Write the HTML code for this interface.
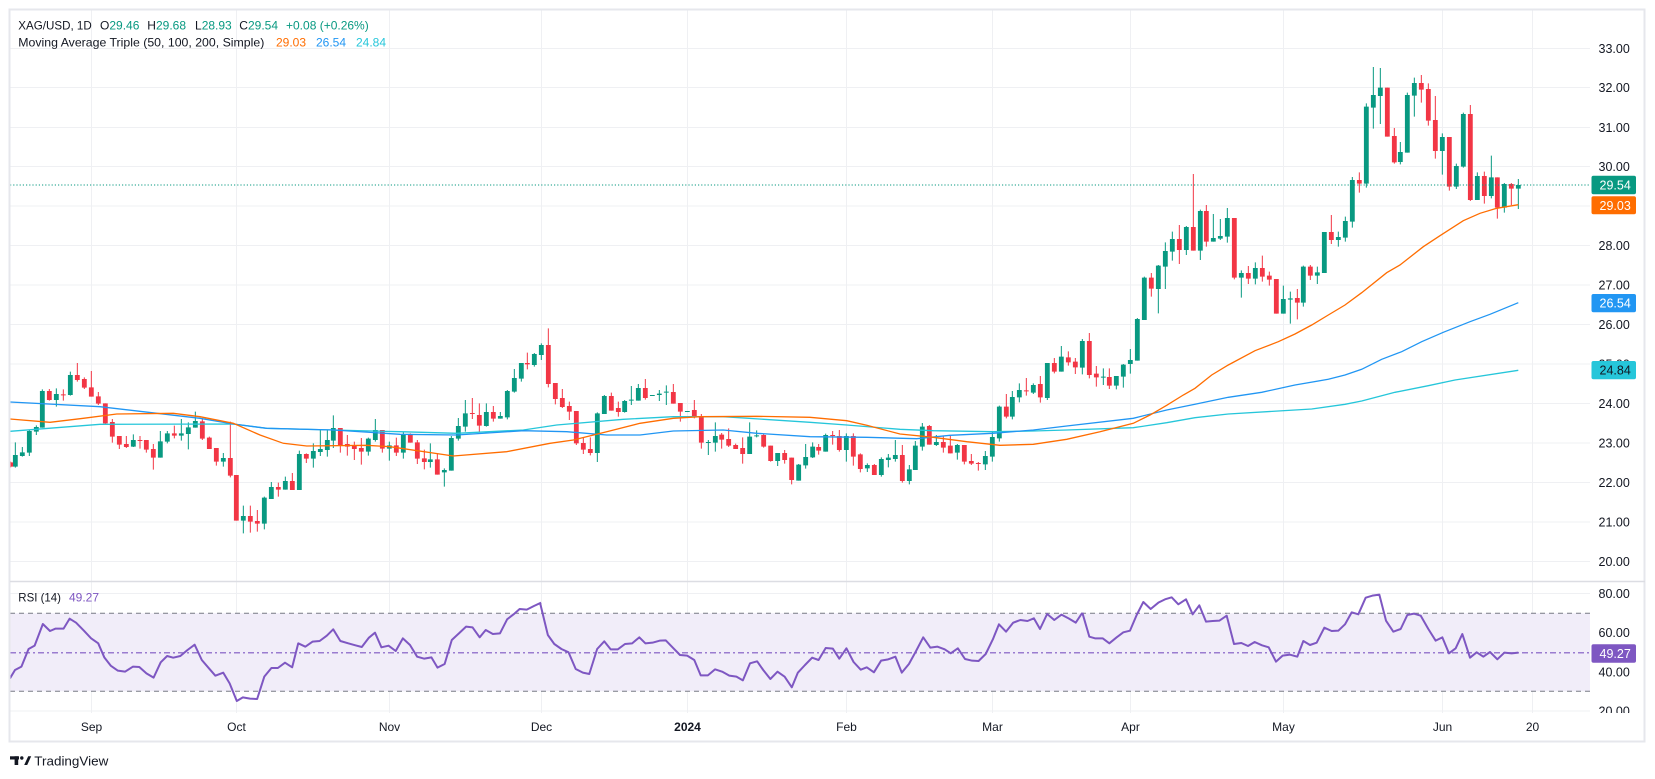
<!DOCTYPE html>
<html><head><meta charset="utf-8"><style>
html,body{margin:0;padding:0;background:#fff;width:1655px;height:779px;overflow:hidden}
svg{display:block}
text{font-family:"Liberation Sans",sans-serif}
.gw{stroke:#089981;stroke-width:3;fill:none}
.gb{stroke:#089981;stroke-width:14.5;fill:none}
.rw{stroke:#F23645;stroke-width:3;fill:none}
.rb{stroke:#F23645;stroke-width:14.5;fill:none}
.grid line{stroke:#eff0f3;stroke-width:1}
.pl{font-size:12.5px;fill:#131722}
.tl{font-size:12px;fill:#131722;text-anchor:middle}
.rsi{fill:none;stroke:#7E57C2;stroke-width:2;stroke-linejoin:round;vector-effect:non-scaling-stroke}
</style></head><body>
<svg width="1655" height="779" viewBox="0 0 1655 779" xmlns="http://www.w3.org/2000/svg">
<defs>
<clipPath id="cm"><rect x="10" y="10" width="1580" height="571"/></clipPath>
<clipPath id="cr"><rect x="10" y="582" width="1580" height="131"/></clipPath>
<clipPath id="ca"><rect x="1590" y="582" width="60" height="131"/></clipPath>
</defs>
<rect width="1655" height="779" fill="#fff"/>

<!-- grid -->
<g class="grid">
<line x1="10" x2="1590" y1="48.5" y2="48.5"/><line x1="10" x2="1590" y1="87.5" y2="87.5"/>
<line x1="10" x2="1590" y1="127.5" y2="127.5"/><line x1="10" x2="1590" y1="166.5" y2="166.5"/>
<line x1="10" x2="1590" y1="206" y2="206"/><line x1="10" x2="1590" y1="245.5" y2="245.5"/>
<line x1="10" x2="1590" y1="285" y2="285"/><line x1="10" x2="1590" y1="324.5" y2="324.5"/>
<line x1="10" x2="1590" y1="364" y2="364"/><line x1="10" x2="1590" y1="403.5" y2="403.5"/>
<line x1="10" x2="1590" y1="443" y2="443"/><line x1="10" x2="1590" y1="482.5" y2="482.5"/>
<line x1="10" x2="1590" y1="522" y2="522"/><line x1="10" x2="1590" y1="561.5" y2="561.5"/>
<line x1="10" x2="1590" y1="593.5" y2="593.5"/><line x1="10" x2="1590" y1="632.5" y2="632.5"/>
<line x1="10" x2="1590" y1="672" y2="672"/><line x1="10" x2="1590" y1="711" y2="711"/>
<line x1="91.5" x2="91.5" y1="10" y2="713"/><line x1="236.5" x2="236.5" y1="10" y2="713"/>
<line x1="389.5" x2="389.5" y1="10" y2="713"/><line x1="541.5" x2="541.5" y1="10" y2="713"/>
<line x1="687.5" x2="687.5" y1="10" y2="713"/><line x1="846.5" x2="846.5" y1="10" y2="713"/>
<line x1="992.5" x2="992.5" y1="10" y2="713"/><line x1="1130.5" x2="1130.5" y1="10" y2="713"/>
<line x1="1283.5" x2="1283.5" y1="10" y2="713"/><line x1="1442.5" x2="1442.5" y1="10" y2="713"/>
<line x1="1532.5" x2="1532.5" y1="10" y2="713"/>
</g>

<!-- candles -->
<g clip-path="url(#cm)">
<g transform="translate(0,300) scale(0.333333)">
<path class="gw" d="M46 427V503M67 441V470M88 390V468M109 376V405M127 268V383M169 265V320M211 215V287M400 403V441M481 393V473M502 393V430M544 357V422M565 367V448M586 335V383M670 459V500M730 617V700M793 590V688M814 546V597M856 530V569M898 452V570M940 430V503M961 390V468M982 390V470M1000 346V444M1105 413V467M1126 357V425M1168 425V482"/>
<path class="gb" d="M46 465V500M67 457V468M88 393V458M109 381V395M127 273V383M169 282V300M211 225V285M400 420V440M481 424V473M502 400V425M544 400V407M565 382V402M586 363V383M670 474V485M730 648V662M793 593V671M814 561V597M856 543V569M898 462V570M940 453V476M961 447V456M982 420V450M1000 384V422M1105 416V455M1126 390V420M1168 436V446"/>
<path class="rw" d="M32 485V502M148 267V302M190 268V302M232 189V245M253 232V267M274 213V290M295 276V315M316 310V372M337 357V428M358 408V447M379 408V444M420 408V446M439 420V458M460 432V509M523 377V415M607 355V420M628 410V447M649 444V497M691 365V532M709 525V662M751 617V698M772 630V695M835 548V590M877 519V570M919 460V489M1021 384V458M1042 405V467M1063 425V480M1084 414V494M1147 390V458M1189 413V468"/>
<path class="rb" d="M32 487V500M148 273V300M190 283V286M232 225V240M253 237V263M274 262V290M295 289V311M316 310V370M337 366V410M358 408V434M379 432V441M420 420V423M439 420V449M460 447V473M523 400V407M607 364V416M628 413V447M649 444V485M691 474V527M709 525V662M751 648V665M772 663V671M835 561V569M877 543V570M919 462V476M1021 384V435M1042 432V440M1063 437V447M1084 444V455M1147 390V446M1189 436V458"/>
</g>
<g transform="translate(390,300) scale(0.333333)">
<path class="gw" d="M40 395V476M121 430V503M163 505V560M184 408V512M205 354V422M226 300V395M289 310V380M331 336V356M352 270V358M373 207V278M394 189V245M433 159V200M454 130V180M622 337V486M643 285V342M704 300V338M724 258V315M745 252V302M787 285V288M808 270V303M829 256V315M892 333V336M955 420V465M976 367V455M1079 367V462M1100 391V412M1163 459V498M1226 492V542M1247 432V506"/>
<path class="gb" d="M40 403V458M121 478V486M163 510V517M184 414V512M205 378V416M226 340V380M289 336V378M331 348V356M352 273V352M373 234V275M394 189V236M433 162V195M454 135V165M622 340V459M643 288V342M704 303V336M724 299V302M745 264V302M787 285V288M808 281V285M829 275V278M892 333V336M955 426V429M976 408V428M1079 410V462M1100 406V409M1163 459V483M1226 494V542M1247 471V496"/>
<path class="rw" d="M61 400V428M82 420V492M103 449V508M142 460V524M247 294V357M268 310V398M310 318V365M412 158V208M475 85V262M496 249V313M517 267V324M538 305V360M559 333V435M580 412V462M601 412V466M664 278V332M685 305V350M766 237V299M850 252V311M871 309V365M913 300V355M934 342V446M995 399V446M1016 385V441M1037 431V447M1058 412V491M1121 402V443M1142 437V485M1184 450V491M1205 473V553"/>
<path class="rb" d="M61 403V428M82 427V476M103 475V486M142 478V524M247 339V342M268 345V377M310 336V356M412 189V193M475 135V252M496 249V297M517 294V321M538 318V335M559 333V430M580 429V449M601 447V459M664 288V332M685 324V336M766 264V294M850 276V311M871 309V335M913 330V352M934 350V428M995 404V419M1016 417V437M1037 435V447M1058 444V462M1121 405V440M1142 437V483M1184 459V480M1205 473V540"/>
</g>
<g transform="translate(800,150) scale(0.333333)">
<path class="gw" d="M38 877V924M77 851V905M139 850V935M202 940V966M244 922V980M265 912V952M286 870V935M328 945V1003M346 873V960M367 819V902M409 855V888M472 882V929M556 903V960M577 846V935M598 767V875M637 723V808M658 700V757M700 700V732M742 639V750M784 588V665M847 567V673M910 655V705M949 678V718M970 642V713M991 597V671M1012 504V632M1033 380V510M1075 345V490M1096 277V417M1117 245V332M1159 228V315"/>
<path class="gb" d="M38 890V922M77 855V905M139 858V900M202 945V955M244 927V975M265 923V930M286 915V927M328 958V993M346 887V960M367 830V890M409 876V885M472 885V908M556 918V943M577 861V920M598 770V865M637 741V800M658 720V742M700 705V728M742 639V744M784 620V665M847 573V653M910 680V683M949 678V707M970 644V680M991 630V642M1012 507V632M1033 383V510M1075 347V417M1096 303V350M1117 267V305M1159 231V300"/>
<path class="rw" d="M56 882V914M98 843V884M118 840V905M160 850V947M181 910V967M223 942V975M307 885V998M388 825V884M430 858V908M451 858V910M493 885V943M514 912V945M535 936V962M619 732V805M679 684V737M721 678V758M763 624V670M805 604V647M826 624V672M868 549V685M889 648V710M928 655V717M1054 369V440M1138 225V342M1180 72V302"/>
<path class="rb" d="M56 891V902M98 855V858M118 858V900M160 858V920M181 913V957M223 945V975M307 915V993M388 828V884M430 876V893M451 887V910M493 885V935M514 933V941M535 939V942M619 770V800M679 721V724M721 702V742M763 639V665M805 622V637M826 635V652M868 573V675M889 671V682M928 681V707M1054 383V416M1138 267V300M1180 231V302"/>
</g>
<g transform="translate(1190,45) scale(0.333333)">
<path class="gw" d="M31 494V645M70 507V590M91 522V585M112 489V593M154 676V758M196 652V718M280 722V806M301 740V836M340 662V785M382 665V717M403 561V684M445 560V605M466 515V590M487 396V548M529 175V428M550 66V251M571 69V237M631 291V358M652 143V323M673 98V215M757 265V389M799 356V432M820 203V368M862 382V465M904 332V460M943 414V503M985 402V492"/>
<path class="gb" d="M31 498V617M70 579V590M91 573V581M112 519V575M154 684V698M196 669V701M280 762V806M301 760V764M340 665V773M382 682V692M403 561V684M445 576V585M466 528V578M487 405V530M529 185V416M550 150V188M571 128V153M631 321V351M652 150V323M673 114V152M757 276V318M799 363V425M820 207V365M862 393V465M904 397V453M943 417V488M985 420V431"/>
<path class="rw" d="M49 480V605M133 519V703M175 663V717M217 632V710M238 680V722M259 702V806M322 732V823M361 660V705M424 510V597M508 382V443M592 128V275M613 249V356M694 90V173M715 115V242M736 153V341M778 276V437M841 180V468M883 380V476M922 397V521M964 414V480"/>
<path class="rb" d="M49 498V590M133 519V698M175 684V701M217 669V695M238 692V704M259 702V806M322 759V773M361 665V692M424 561V585M508 405V416M592 128V275M613 273V352M694 114V134M715 132V227M736 225V318M778 276V425M841 207V465M883 393V453M922 397V488M964 417V431"/>
</g>

<!-- moving averages -->
<polyline fill="none" stroke="#26C6DA" stroke-width="1.3" points="10,431.3 100,424.3 233.3,424 266.7,428.3 333.3,430 400,431.7 456.7,433.3 523.3,430 556.7,425 623.3,419.3 673.3,416.7 723.3,416.7 810,422.3 846.7,425 900,429.3 933.3,430.7 992.7,431.7 1033.3,431 1066.7,430 1133.3,427.7 1166.7,422.7 1195,417.7 1228.3,414 1278.3,411 1311.7,409 1345,404.3 1361.7,401 1395,392.3 1428.3,385.7 1455,380 1518.3,370.3"/>
<polyline fill="none" stroke="#2196F3" stroke-width="1.3" points="10,402 100,406.7 200,418.3 233.3,424 266.7,428.3 333.3,430 400,434.3 456.7,435 523.3,430.7 566.7,431.7 606.7,435 640,435 673.3,431 723.3,430 756.7,433.3 810,436.7 866.7,437.3 916.7,438.7 950,435.3 992.7,433.3 1033.3,430 1066.7,426 1133.3,418.3 1166.7,410 1195,404.3 1228.3,397.3 1261.7,392.3 1295,385 1328.3,379.3 1345,375 1361.7,369.3 1381.7,359.3 1401.7,351.7 1421.7,341.7 1443.3,332.3 1470,321.7 1490,314.3 1518.3,302.7"/>
<polyline fill="none" stroke="#FF6D00" stroke-width="1.3" points="10,419 50,422.3 83.3,418.3 116.7,414 173.3,413.3 200,416.7 233.3,423.3 260,435 283.3,443.3 306.7,446 366.7,445.3 390,446.7 453.3,456 506.7,451.7 550,443.3 573.3,440 606.7,431.7 640,423.3 673.3,418.3 700,416.7 756.7,416.3 810,417.3 846.7,420.7 866.7,425.3 900,434 933.3,437.3 966.7,441.7 1000,445.3 1033.3,444.3 1066.7,439.3 1100,431.7 1133.3,423.3 1150,415 1166.7,405.3 1183.3,395 1195,388.3 1211.7,375 1228.3,365 1255,350.7 1278.3,341.7 1295,334 1311.7,325 1328.3,315 1345,305 1361.7,292.7 1386.7,272.7 1400,265 1423.3,246.7 1440,235.7 1463.3,220.7 1480,213.3 1496.7,208.3 1518.3,204.7"/>
<line x1="10" x2="1590" y1="185" y2="185" stroke="#089981" stroke-width="1" stroke-dasharray="1.2,2"/>
</g>

<!-- RSI pane -->
<g clip-path="url(#cr)">
<rect x="10" y="613.3" width="1580" height="78" fill="#f1edf9"/>
<line x1="10" x2="1590" y1="613.3" y2="613.3" stroke="#787b86" stroke-width="1" stroke-dasharray="5,4"/>
<line x1="10" x2="1590" y1="691.3" y2="691.3" stroke="#787b86" stroke-width="1" stroke-dasharray="5,4"/>
<line x1="10" x2="1590" y1="652.8" y2="652.8" stroke="#7E57C2" stroke-width="1.2" stroke-dasharray="6,3,2,3"/>
<g transform="translate(0,580) scale(0.357143,0.333333)">
<polyline class="rsi" points="28,295 42,270 60,260 80,207 97,197 120,132 140,153 155,146 178,146 195,116 213,128 235,152 255,175 275,190 292,232 310,257 330,272 350,275 372,260 390,261 410,280 430,293 450,247 468,228 485,233 505,228 525,210 545,194 565,240 585,265 603,287 625,278 643,310 663,363 680,352 700,356 720,357 740,290 760,264 778,264 798,248 818,262 835,190 855,200 875,185 895,183 915,167 933,148 953,183 975,190 995,196 1013,201 1033,173 1050,158 1068,202 1088,197 1108,213 1128,175 1148,195 1168,230 1188,236 1208,232 1225,263 1245,252 1265,180 1285,160 1305,140 1323,142 1343,172 1360,150 1380,162 1400,160 1420,118 1438,103 1455,87 1475,89 1495,78 1515,68"/>
</g>
<g transform="translate(540,580) scale(0.357143,0.333333)">
<polyline class="rsi" points="0,68 22,165 40,192 60,207 80,217 100,267 120,278 138,282 160,207 180,184 198,208 218,208 238,192 258,190 278,172 295,190 315,188 335,182 352,181 372,203 392,225 412,227 432,240 450,286 470,286 490,268 510,275 530,287 550,290 568,301 588,250 608,244 625,270 645,297 665,275 685,290 705,322 722,278 742,255 762,233 780,240 800,204 820,206 838,236 858,205 878,246 898,269 915,262 935,277 955,242 975,238 995,230 1013,278 1033,252 1053,213 1073,172 1093,203 1113,200 1133,208 1150,220 1170,205 1190,237 1210,242 1228,243 1248,222 1268,178 1285,133 1305,155 1325,128 1345,120 1365,123 1383,115 1400,147 1420,102 1440,120 1460,104 1480,115 1500,128 1518,99"/>
</g>
<g transform="translate(1080,580) scale(0.333333)">
<polyline class="rsi" points="7,98 28,170 45,175 68,175 88,190 110,172 130,157 150,152 170,105 190,66 212,87 235,68 255,58 275,52 295,73 318,58 338,103 358,76 378,125 398,123 418,122 440,107 462,192 484,189 504,198 524,186 546,196 566,202 588,245 608,227 630,224 652,230 670,183 690,195 710,188 733,143 755,153 775,152 795,133 815,97 835,103 857,53 877,47 898,44 918,122 940,155 962,147 982,105 1002,101 1022,107 1045,147 1067,182 1087,172 1107,220 1127,205 1147,162 1170,233 1190,217 1210,230 1230,216 1252,238 1273,218 1295,220 1315,218"/>
</g>
</g>

<!-- frame -->
<rect x="9.5" y="9.5" width="1635" height="732" fill="none" stroke="#e6e7ec" stroke-width="2"/>
<line x1="10" x2="1645" y1="581.5" y2="581.5" stroke="#dcdde3" stroke-width="1.5"/>

<!-- header -->
<text x="18.3" y="29.3" font-size="12" fill="#131722" textLength="73.4" lengthAdjust="spacingAndGlyphs">XAG/USD, 1D</text>
<text x="100" y="29.3" font-size="12"><tspan fill="#131722">O</tspan><tspan fill="#089981">29.46</tspan></text>
<text x="147.3" y="29.3" font-size="12"><tspan fill="#131722">H</tspan><tspan fill="#089981">29.68</tspan></text>
<text x="195" y="29.3" font-size="12"><tspan fill="#131722">L</tspan><tspan fill="#089981">28.93</tspan></text>
<text x="239.3" y="29.3" font-size="12"><tspan fill="#131722">C</tspan><tspan fill="#089981">29.54</tspan></text>
<text x="286" y="29.3" font-size="12" fill="#089981">+0.08 (+0.26%)</text>
<text x="18.3" y="46.7" font-size="12" fill="#131722" textLength="246" lengthAdjust="spacingAndGlyphs">Moving Average Triple (50, 100, 200, Simple)</text>
<text x="276" y="46.7" font-size="12" fill="#FF6D00">29.03</text>
<text x="316" y="46.7" font-size="12" fill="#2196F3">26.54</text>
<text x="356" y="46.7" font-size="12" fill="#26C6DA">24.84</text>
<text x="18.3" y="601.5" font-size="12" fill="#131722" textLength="42.7" lengthAdjust="spacingAndGlyphs">RSI (14)</text>
<text x="69" y="601.5" font-size="12" fill="#7E57C2">49.27</text>

<!-- price axis -->
<g class="pl">
<text x="1598.5" y="53">33.00</text><text x="1598.5" y="92">32.00</text>
<text x="1598.5" y="132">31.00</text><text x="1598.5" y="171">30.00</text>
<text x="1598.5" y="210.5">29.00</text><text x="1598.5" y="250">28.00</text>
<text x="1598.5" y="289.5">27.00</text><text x="1598.5" y="329">26.00</text>
<text x="1598.5" y="368.5">25.00</text><text x="1598.5" y="408">24.00</text>
<text x="1598.5" y="447.5">23.00</text><text x="1598.5" y="487">22.00</text>
<text x="1598.5" y="526.5">21.00</text><text x="1598.5" y="566">20.00</text>
</g>
<g class="pl" clip-path="url(#ca)">
<text x="1598.5" y="598">80.00</text><text x="1598.5" y="637">60.00</text>
<text x="1598.5" y="676.5">40.00</text><text x="1598.5" y="715.5">20.00</text>
</g>
<rect x="1591.5" y="175.7" width="44.5" height="18.6" rx="2" fill="#089981"/>
<text x="1599.5" y="189.5" font-size="12.5" fill="#fff">29.54</text>
<rect x="1591.5" y="196.3" width="44.5" height="18" rx="2" fill="#FF6D00"/>
<text x="1599.5" y="209.8" font-size="12.5" fill="#fff">29.03</text>
<rect x="1591.5" y="294" width="44.5" height="18.3" rx="2" fill="#2196F3"/>
<text x="1599.5" y="307.6" font-size="12.5" fill="#fff">26.54</text>
<rect x="1591.5" y="361" width="44.5" height="18.3" rx="2" fill="#26C6DA"/>
<text x="1599.5" y="374.6" font-size="12.5" fill="#131722">24.84</text>
<rect x="1591.5" y="644.3" width="44.5" height="18.4" rx="2" fill="#7E57C2"/>
<text x="1599.5" y="658" font-size="12.5" fill="#fff">49.27</text>

<!-- time axis -->
<g class="tl">
<text x="91.5" y="731">Sep</text><text x="236.5" y="731">Oct</text>
<text x="389.5" y="731">Nov</text><text x="541.5" y="731">Dec</text>
<text x="687.5" y="731" font-weight="bold">2024</text><text x="846.5" y="731">Feb</text>
<text x="992.5" y="731">Mar</text><text x="1130.5" y="731">Apr</text>
<text x="1283.5" y="731">May</text><text x="1442.5" y="731">Jun</text>
<text x="1532.5" y="731">20</text>
</g>

<!-- logo -->
<g fill="#131722">
<rect x="10" y="756.3" width="9" height="3.2"/>
<rect x="14.6" y="756.3" width="3.6" height="8.7"/>
<circle cx="21.8" cy="758" r="1.7"/>
<polygon points="24.2,765 28.2,756.3 31.2,756.3 27.2,765"/>
</g>
<text x="34.3" y="765.3" font-size="13" fill="#131722" textLength="74" lengthAdjust="spacingAndGlyphs">TradingView</text>
</svg>
</body></html>
